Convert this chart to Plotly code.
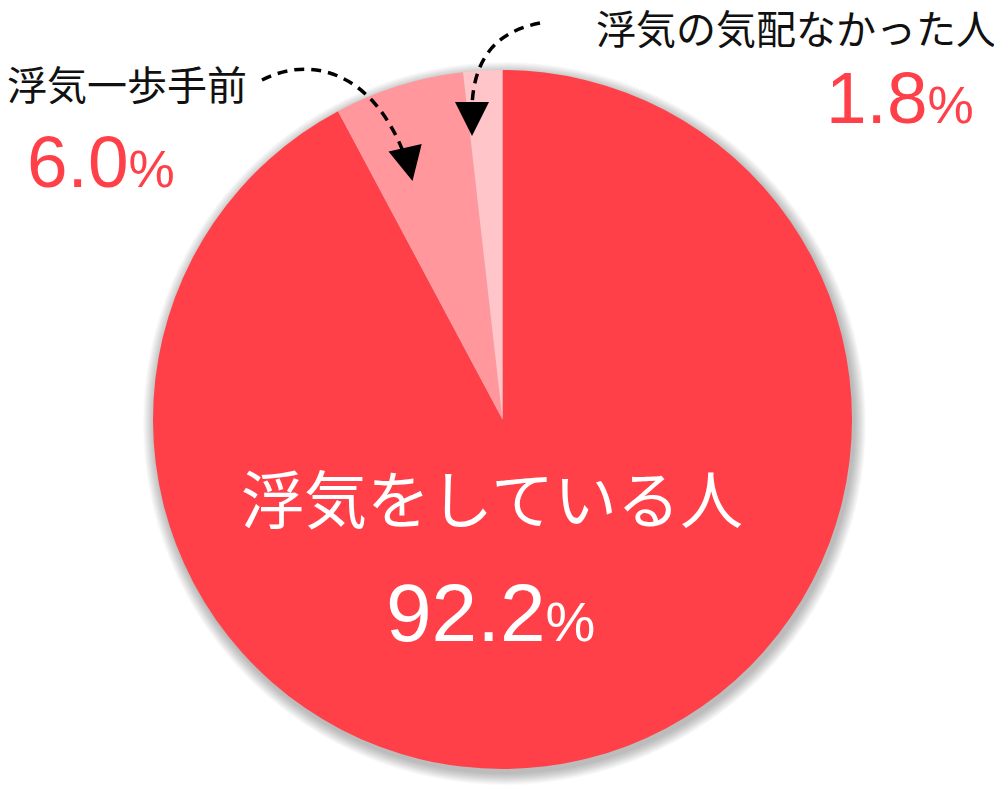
import plotly.graph_objects as go

W, H = 1002, 790
OFF = 8  # page body margin; reference pixels are shifted by this

# data
labels = ["浮気をしている人", "浮気一歩手前", "浮気の気配なかった人"]
values = [92.2, 6.0, 1.8]
colors = ["#ff4049", "#ff979c", "#ffc5c8"]

FW, FH = W - OFF, H - OFF

# pie placement in reference pixels
cx, cy, r = 502.5, 419.5, 349.5

def px(x, y):
    return (x - OFF) / FW, 1 - (y - OFF) / FH

def path(cmds):
    ## cmds: list of (letter, [(x,y),...]) in reference pixels -> svg path in paper coords
    out = []
    for c, pts in cmds:
        out.append(c + " " + " ".join("%.5f,%.5f" % px(x, y) for x, y in pts))
    return " ".join(out)

fig = go.Figure()

x0, y1 = px(cx - r, cy - r)
x1, y0 = px(cx + r, cy + r)
fig.add_trace(go.Pie(
    labels=labels,
    values=values,
    sort=False,
    direction="clockwise",
    rotation=0,
    marker=dict(colors=colors, line=dict(width=0)),
    textinfo="none",
    hoverinfo="skip",
    showlegend=False,
    domain=dict(x=[x0, x1], y=[y0, y1]),
))

## soft shadow behind the pie
for i in range(12):
    rr = r + 1 + i
    sx, sy = cx + 2, cy + 4
    a0, b1 = px(sx - rr, sy - rr)
    a1, b0 = px(sx + rr, sy + rr)
    fig.add_shape(type="circle", xref="paper", yref="paper", layer="below",
                  x0=a0, x1=a1, y0=b0, y1=b1,
                  fillcolor="rgba(0,0,0,0.022)", line=dict(width=0))

## dashed curved arrows
dash = dict(color="black", width=3.5, dash="10px,7px")
fig.add_shape(type="path", xref="paper", yref="paper", line=dash,
              path=path([("M", [(262, 80)]), ("C", [(310, 55), (375, 70), (407, 162)])]))
fig.add_shape(type="path", xref="paper", yref="paper", line=dash,
              path=path([("M", [(540, 23)]), ("C", [(505, 30), (470, 50), (472, 118)])]))

## arrow heads (annotation arrows sit above the pie)
for hx, hy, tx, ty in ((412.5, 181, -4, -18), (472, 136, 0, -18)):
    ax_, ay_ = px(hx, hy)
    fig.add_annotation(x=ax_, y=ay_, xref="paper", yref="paper", text="",
                       showarrow=True, ax=tx, ay=ty, arrowhead=2,
                       arrowsize=3.4, arrowwidth=2, arrowcolor="black")

jp = "Noto Sans CJK JP"
num = "Liberation Sans"
red = colors[0]

def pct(v, psize):
    return "%.1f<span style='font-size:%dpx'>%%</span>" % (v, psize)

ann = [
    # text, x, y, anchor, font, size, color
    (labels[0], 492, 495, "center", jp, 63, "white"),
    (pct(values[0], 56), 490, 612, "center", num, 82, "white"),
    (labels[1], 6, 83, "left", jp, 40, "#111111"),
    (pct(values[1], 52), 26, 162, "left", num, 73, red),
    (labels[2], 595, 27, "left", jp, 40, "#111111"),
    (pct(values[2], 52), 825, 98, "left", num, 73, red),
]
for text, x, y, anchor, fam, size, col in ann:
    ax, ay = px(x, y)
    fig.add_annotation(text=text, x=ax, y=ay, xref="paper", yref="paper",
                       xanchor=anchor, yanchor="middle", showarrow=False,
                       borderpad=0, font=dict(family=fam, size=size, color=col))

fig.update_layout(width=FW, height=FH, margin=dict(l=0, r=0, t=0, b=0),
                  paper_bgcolor="white", plot_bgcolor="rgba(0,0,0,0)")

fig.write_html("out.html")
